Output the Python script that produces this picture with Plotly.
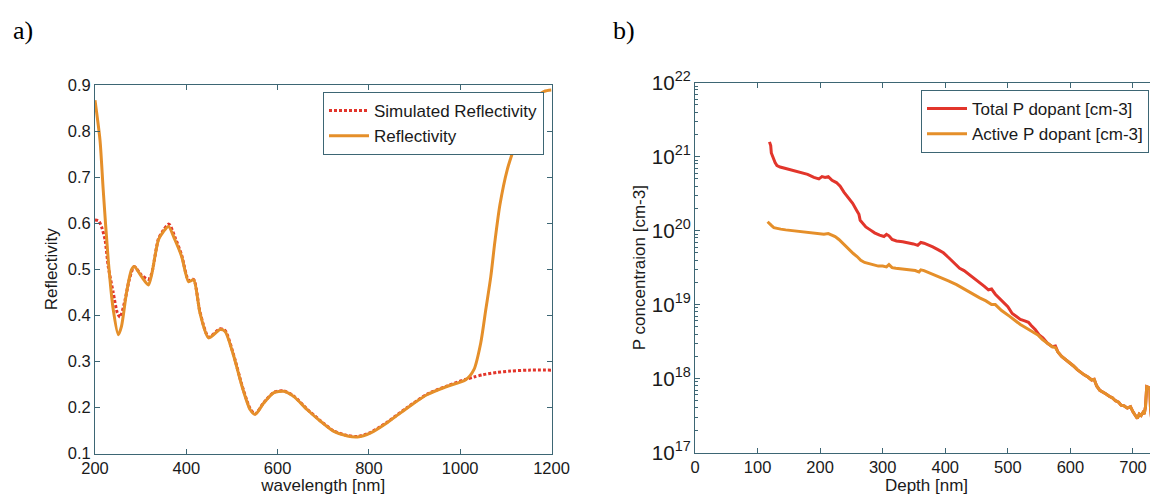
import numpy as np
import plotly.graph_objects as go

# ---------------- Panel a) data ----------------
refl_wl = [200, 211, 218, 229, 240, 251, 258, 269, 280, 286, 302, 317, 324, 339, 350, 361,
           375, 390, 405, 416, 430, 449, 474, 485, 504, 522, 540, 551, 570, 592, 613,
           635, 665, 694, 723, 753, 775, 804, 840, 884, 928, 972, 1012, 1030, 1045,
           1056, 1067, 1076, 1087, 1103, 1119, 1135, 1159, 1184, 1200]
refl_val = [0.867, 0.780, 0.672, 0.520, 0.412, 0.358, 0.376, 0.449, 0.499, 0.506, 0.484,
            0.466, 0.488, 0.564, 0.582, 0.593, 0.564, 0.527, 0.473, 0.477, 0.405, 0.351,
            0.369, 0.365, 0.311, 0.246, 0.195, 0.185, 0.210, 0.232, 0.235, 0.224, 0.195,
            0.170, 0.148, 0.138, 0.136, 0.145, 0.167, 0.199, 0.228, 0.246, 0.260, 0.282,
            0.340, 0.412, 0.484, 0.560, 0.640, 0.716, 0.766, 0.810, 0.868, 0.886, 0.889]

sim_wl = [200, 208, 215, 222, 229, 240, 249, 255, 266, 275, 286, 302, 317, 324, 339, 350,
          362, 375, 390, 405, 416, 430, 449, 474, 485, 504, 522, 540, 551, 570, 592, 613,
          635, 665, 694, 723, 753, 775, 804, 840, 884, 928, 972, 1012, 1030, 1050, 1080,
          1110, 1150, 1200]
sim_val = [0.607, 0.605, 0.590, 0.564, 0.506, 0.449, 0.405, 0.396, 0.434, 0.477, 0.506,
           0.487, 0.478, 0.490, 0.566, 0.585, 0.598, 0.570, 0.530, 0.476, 0.478, 0.407,
           0.353, 0.371, 0.367, 0.313, 0.248, 0.197, 0.186, 0.211, 0.233, 0.236, 0.225,
           0.196, 0.171, 0.149, 0.139, 0.137, 0.146, 0.168, 0.200, 0.229, 0.247, 0.261,
           0.266, 0.271, 0.276, 0.279, 0.281, 0.281]

# ---------------- Panel b) data (log10 of concentration, cm^-3) ----------------
total_depth = [119, 121, 122, 124, 126, 128, 131, 136, 145, 155, 168, 180, 190, 198, 203,
               208, 213, 219, 226, 232, 238, 245, 252, 258, 262, 264, 268, 273, 280, 287,
               295, 302, 306, 310, 315, 322, 332, 340, 349, 356, 361, 366, 372, 380, 389,
               397, 406, 414, 423, 430, 438, 446, 455, 462, 469, 474, 480, 491, 500, 507,
               514, 520, 527, 533, 537, 544, 550, 556, 563, 571, 576, 580, 586, 592, 599,
               605, 611, 617, 622, 628, 634, 638, 642, 647, 652, 657, 662, 667, 672, 677,
               681, 686, 691, 696, 700, 704, 707, 710, 713, 716, 718, 720, 722, 725, 727,
               728, 730, 733, 736, 740]
total_log10 = [21.20, 21.15, 21.05, 21.00, 20.95, 20.92, 20.88, 20.86, 20.84, 20.82, 20.79,
               20.76, 20.72, 20.70, 20.73, 20.72, 20.73, 20.68, 20.65, 20.60, 20.52, 20.45,
               20.37, 20.28, 20.22, 20.14, 20.10, 20.05, 20.01, 19.97, 19.94, 19.92, 19.95,
               19.93, 19.88, 19.86, 19.85, 19.84, 19.82, 19.80, 19.84, 19.83, 19.81, 19.78,
               19.74, 19.70, 19.63, 19.57, 19.49, 19.46, 19.41, 19.36, 19.30, 19.25, 19.20,
               19.21, 19.14, 19.04, 18.97, 18.88, 18.84, 18.80, 18.78, 18.76, 18.72, 18.66,
               18.59, 18.55, 18.48, 18.43, 18.44, 18.36, 18.30, 18.26, 18.21, 18.17, 18.12,
               18.08, 18.05, 18.02, 17.98, 17.99, 17.90, 17.84, 17.82, 17.79, 17.76, 17.74,
               17.70, 17.68, 17.64, 17.63, 17.60, 17.62, 17.55, 17.50, 17.46, 17.52, 17.50,
               17.54, 17.52, 17.62, 17.89, 17.88, 17.85, 17.60, 17.44, 17.42, 17.40, 17.41]

active_depth = [116, 119, 122, 126, 130, 137, 145, 155, 168, 180, 190, 200, 206, 213, 219,
                224, 230, 236, 241, 247, 253, 259, 265, 271, 276, 283, 293, 300, 306, 310,
                315, 321, 330, 337, 344, 352, 358, 361, 366, 372, 378, 386, 395, 405, 418,
                430, 440, 446, 455, 465, 474, 480, 490, 503, 512, 520, 526, 532, 540, 548,
                555, 563, 571, 576, 580, 586, 592, 599, 605, 611, 617, 622, 628, 634, 638,
                642, 647, 652, 657, 662, 667, 672, 677, 681, 686, 691, 696, 700, 704, 707,
                710, 713, 716, 718, 720, 722, 725, 727, 728, 730, 733, 736, 740]
active_log10 = [20.12, 20.10, 20.07, 20.04, 20.03, 20.02, 20.01, 20.00, 19.99, 19.97, 19.96,
                19.96, 19.95, 19.96, 19.94, 19.92, 19.88, 19.83, 19.78, 19.73, 19.69, 19.65,
                19.60, 19.57, 19.56, 19.54, 19.52, 19.52, 19.51, 19.54, 19.50, 19.49, 19.48,
                19.47, 19.47, 19.46, 19.44, 19.47, 19.46, 19.44, 19.42, 19.39, 19.36, 19.32,
                19.27, 19.21, 19.16, 19.13, 19.09, 19.05, 19.00, 19.00, 18.92, 18.84, 18.78,
                18.73, 18.70, 18.67, 18.63, 18.59, 18.53, 18.48, 18.43, 18.42, 18.36, 18.30,
                18.26, 18.21, 18.17, 18.12, 18.08, 18.05, 18.02, 17.98, 17.99, 17.90, 17.84,
                17.82, 17.79, 17.76, 17.74, 17.70, 17.68, 17.64, 17.63, 17.60, 17.62, 17.55,
                17.50, 17.46, 17.52, 17.50, 17.54, 17.52, 17.62, 17.89, 17.88, 17.85, 17.60,
                17.44, 17.42, 17.40, 17.41]

RED = "#e2352b"
ORANGE = "#e58f2a"
AXIS = "#3d6674"
TXT = "#1a1a1a"
FONT = "Liberation Sans, Arial, sans-serif"
SERIF = "Liberation Serif, Times New Roman, serif"

# The page body has an 8px margin, so figure coordinates = window pixels - 8.
OFF = 8
W, H = 1158 - OFF, 495 - OFF


def fx(px):
    return (px - OFF) / W


def fy(py):
    return 1 - (py - OFF) / H


fig = go.Figure()

fig.add_trace(go.Scatter(x=sim_wl, y=sim_val, mode="lines", name="Simulated Reflectivity",
                         line=dict(color=RED, width=3, dash="3px,2px", shape="spline", smoothing=0.7),
                         xaxis="x", yaxis="y", legend="legend"))
fig.add_trace(go.Scatter(x=refl_wl, y=refl_val, mode="lines", name="Reflectivity",
                         line=dict(color=ORANGE, width=3, shape="spline", smoothing=0.7),
                         xaxis="x", yaxis="y", legend="legend"))

fig.add_trace(go.Scatter(x=total_depth, y=np.power(10.0, total_log10), mode="lines",
                         name="Total P dopant [cm-3]", line=dict(color=RED, width=3),
                         xaxis="x2", yaxis="y2", legend="legend2"))
fig.add_trace(go.Scatter(x=active_depth, y=np.power(10.0, active_log10), mode="lines",
                         name="Active P dopant [cm-3]", line=dict(color=ORANGE, width=3),
                         xaxis="x2", yaxis="y2", legend="legend2"))

common = dict(showline=True, linecolor=AXIS, linewidth=1, ticks="inside", ticklen=5,
              tickcolor=AXIS, showgrid=False, zeroline=False, automargin=False,
              tickfont=dict(family=FONT, size=16.5, color=TXT),
              title_font=dict(family=FONT, size=17, color=TXT))

legend_common = dict(xanchor="left", yanchor="top", bgcolor="white", bordercolor=AXIS,
                     borderwidth=1, font=dict(family=FONT, size=17, color=TXT),
                     tracegroupgap=0, itemwidth=40)

fig.update_layout(
    width=W, height=H, autosize=False,
    margin=dict(l=0, r=0, t=0, b=0, pad=0, autoexpand=False),
    paper_bgcolor="white", plot_bgcolor="white",
    xaxis=dict(domain=[fx(95), fx(551.5)], anchor="y", range=[200, 1200], dtick=200,
               mirror="ticks", title=dict(text="wavelength [nm]", standoff=8), **common),
    yaxis=dict(domain=[fy(453.5), fy(85)], anchor="x", range=[0.1, 0.9], dtick=0.1,
               tickformat=".1f", mirror="ticks",
               title=dict(text="Reflectivity", standoff=5), **common),
    xaxis2=dict(domain=[fx(695), 1.0], anchor="y2", range=[0, 740], dtick=100,
                mirror="ticks", title=dict(text="Depth [nm]", standoff=8), **common),
    yaxis2=dict(domain=[fy(452.5), fy(82.7)], anchor="x2", type="log",
                range=[17, 22], dtick=1, exponentformat="power", mirror=False,
                minor=dict(ticks="inside", ticklen=3, tickcolor=AXIS, dtick="D1"),
                title=dict(text="P concentraion [cm-3]", standoff=1), **common),
    legend=dict(x=fx(323), y=fy(92), **legend_common),
    legend2=dict(x=fx(921), y=fy(90), **legend_common),
    showlegend=True,
    annotations=[
        dict(text="a)", x=fx(11), y=fy(30), xref="paper", yref="paper",
             xanchor="left", yanchor="middle", showarrow=False,
             font=dict(family=SERIF, size=26, color="black")),
        dict(text="b)", x=fx(611), y=fy(30), xref="paper", yref="paper",
             xanchor="left", yanchor="middle", showarrow=False,
             font=dict(family=SERIF, size=26, color="black")),
    ],
)

fig.write_html("out.html")
